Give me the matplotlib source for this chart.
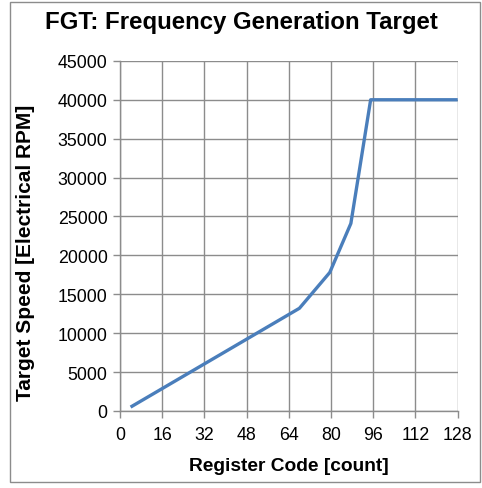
import matplotlib
matplotlib.use("Agg")
import matplotlib.pyplot as plt
from matplotlib.patches import Rectangle

plt.rcParams['font.family'] = ['Liberation Sans', 'DejaVu Sans']

code = [4, 68, 79.5, 87.5, 95, 128]
speed = [500, 13200, 17800, 24100, 40000, 40000]
xticks = [0, 16, 32, 48, 64, 80, 96, 112, 128]
yticks = list(range(0, 45001, 5000))

fig = plt.figure(figsize=(4.82, 4.89), dpi=100)
ax = fig.add_axes([0.249, 0.1575, 0.7006, 0.716])
ax.plot(code, speed, color='#4a7ebb', lw=2.4, solid_capstyle='butt', zorder=3)
ax.set_xlim(0, 128)
ax.set_ylim(0, 45000)
ax.set_xticks(xticks)
ax.set_yticks(yticks)
ax.grid(True, color='#8c8c8c', lw=1.0)
for s in ['top', 'right']:
    ax.spines[s].set_visible(False)
for s in ['left', 'bottom']:
    ax.spines[s].set_color('#8c8c8c')
    ax.spines[s].set_linewidth(1.0)
ax.tick_params(axis='both', colors='#8c8c8c', labelcolor='black', labelsize=12.8, length=5, width=1.0)
ax.tick_params(axis='x', pad=6)
ax.tick_params(axis='y', pad=4)
ax.set_xlabel('Register Code [count]', fontsize=13.8, fontweight='bold', va='center', ha='center')
ax.xaxis.set_label_coords(0.5, -0.157)
ax.set_ylabel('Target Speed [Electrical RPM]', fontsize=15, fontweight='bold', va='center', ha='center')
ax.yaxis.set_label_coords(-0.28, 0.455)
fig.text(0.5, 0.953, 'FGT: Frequency Generation Target', ha='center', va='center',
         fontsize=17.3, fontweight='bold')
fig.patches.append(Rectangle((10/482, 6/489), 470/482, 480/489, transform=fig.transFigure,
                             fill=False, edgecolor='#8c8c8c', lw=1.0))
fig.savefig('out.png', dpi=100)
